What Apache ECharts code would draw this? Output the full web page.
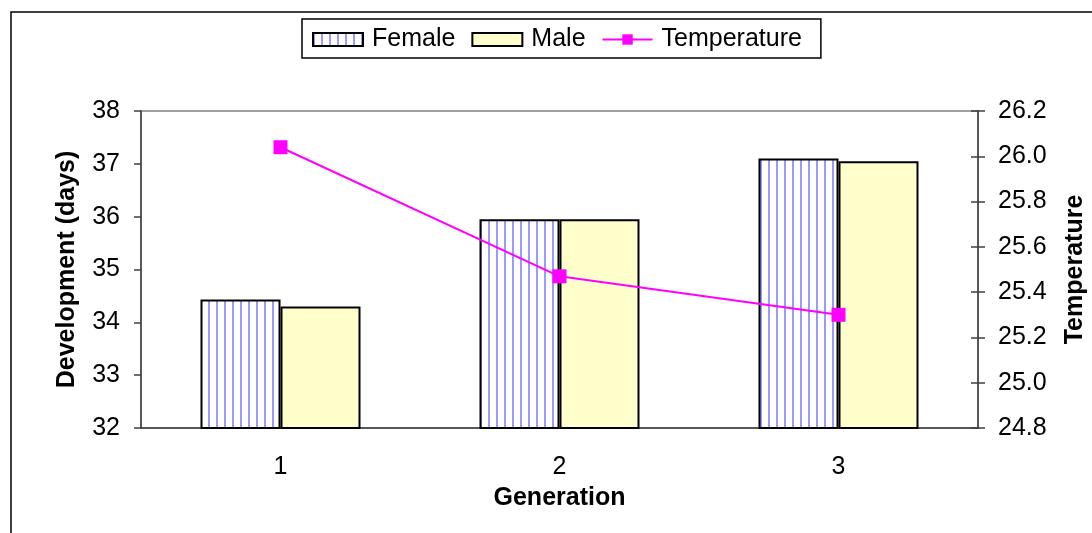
<!DOCTYPE html>
<html>
<head>
<meta charset="utf-8">
<script src="https://cdn.jsdelivr.net/npm/echarts@6/dist/echarts.min.js"></script>
<style>
html,body{margin:0;padding:0;background:#fff;}
#chart{width:1092px;height:533px;}
</style>
</head>
<body>
<div id="chart"></div>
<script>
const categories = ['1', '2', '3'];
const femaleDays = [34.43, 35.95, 37.10];
const maleDays = [34.30, 35.95, 37.05];
const temperature = [26.04, 25.47, 25.30];

const FONT = '"Liberation Sans", Arial, sans-serif';
const FS = 25;

// vertical stripe pattern for Female bars
const pat = document.createElement('canvas');
pat.width = 8; pat.height = 8;
const pctx = pat.getContext('2d');
pctx.fillStyle = '#ffffff';
pctx.fillRect(0, 0, 8, 8);
pctx.fillStyle = '#9999ff';
pctx.fillRect(0, 0, 2, 8);

const chart = echarts.init(document.getElementById('chart'), null, {renderer: 'canvas'});

const axisCol = '#404040';

chart.setOption({
  animation: false,
  backgroundColor: '#ffffff',
  textStyle: {fontFamily: FONT},
  graphic: [{
    type: 'rect',
    shape: {x: 11, y: 12, width: 1200, height: 700},
    style: {fill: 'none', stroke: '#000', lineWidth: 1.5},
    z: -10
  }],
  legend: {
    left: 302,
    top: 19,
    padding: [8, 19, 6, 10],
    itemWidth: 50,
    itemHeight: 13,
    itemGap: 16,
    borderColor: '#000',
    borderWidth: 1.5,
    textStyle: {fontFamily: FONT, fontSize: FS, color: '#000', padding: [3, 0, 0, 4]},
    data: [
      {name: 'Female', icon: 'rect'},
      {name: 'Male', icon: 'rect'},
      {name: 'Temperature'}
    ]
  },
  grid: {
    left: 141, right: 114, top: 111, bottom: 105,
    containLabel: false,
    outerBoundsMode: 'none',
    show: true, borderColor: '#808080', borderWidth: 1.5
  },
  xAxis: {
    type: 'category',
    data: categories,
    name: 'Generation',
    nameLocation: 'middle',
    nameGap: 58,
    nameTextStyle: {fontFamily: FONT, fontSize: FS, fontWeight: 'bold', color: '#000'},
    axisLine: {lineStyle: {color: axisCol, width: 1.5}},
    axisTick: {length: 8, lineStyle: {color: axisCol, width: 1.5}},
    axisLabel: {fontFamily: FONT, fontSize: FS, color: '#000', margin: 27}
  },
  yAxis: [{
    type: 'value',
    min: 32, max: 38, interval: 1,
    name: 'Development (days)',
    nameLocation: 'middle',
    nameGap: 61,
    nameRotate: 90,
    nameTextStyle: {fontFamily: FONT, fontSize: FS, fontWeight: 'bold', color: '#000'},
    axisLine: {show: true, lineStyle: {color: axisCol, width: 1.5}},
    axisTick: {show: true, length: 7, lineStyle: {color: axisCol, width: 1.5}},
    axisLabel: {fontFamily: FONT, fontSize: FS, color: '#000', margin: 21},
    splitLine: {show: false}
  }, {
    type: 'value',
    position: 'right',
    min: 24.8, max: 26.2, interval: 0.2,
    name: 'Temperature',
    nameLocation: 'middle',
    nameGap: 85,
    nameRotate: 90,
    nameTextStyle: {fontFamily: FONT, fontSize: FS, fontWeight: 'bold', color: '#000'},
    axisLine: {show: true, lineStyle: {color: axisCol, width: 1.5}},
    axisTick: {show: true, length: 7, lineStyle: {color: axisCol, width: 1.5}},
    axisLabel: {fontFamily: FONT, fontSize: FS, color: '#000', margin: 20,
      formatter: v => v.toFixed(1)},
    splitLine: {show: false}
  }, {
    type: 'value',
    position: 'right',
    min: 24.8, max: 26.2, interval: 0.2,
    axisLine: {show: false},
    axisTick: {show: true, inside: true, length: 7, lineStyle: {color: axisCol, width: 1.5}},
    axisLabel: {show: false},
    splitLine: {show: false}
  }],
  series: [{
    name: 'Female',
    type: 'bar',
    data: femaleDays,
    barWidth: 80,
    barGap: '0%',
    itemStyle: {color: {image: pat, repeat: 'repeat'}, borderColor: '#000', borderWidth: 2}
  }, {
    name: 'Male',
    type: 'bar',
    data: maleDays,
    barWidth: 80,
    barGap: '0%',
    itemStyle: {color: '#ffffcc', borderColor: '#000', borderWidth: 2}
  }, {
    name: 'Temperature',
    type: 'line',
    yAxisIndex: 1,
    data: temperature,
    symbol: 'rect',
    symbolSize: 14,
    lineStyle: {color: '#ff00ff', width: 2},
    itemStyle: {color: '#ff00ff'},
    z: 5
  }]
});
</script>
</body>
</html>
